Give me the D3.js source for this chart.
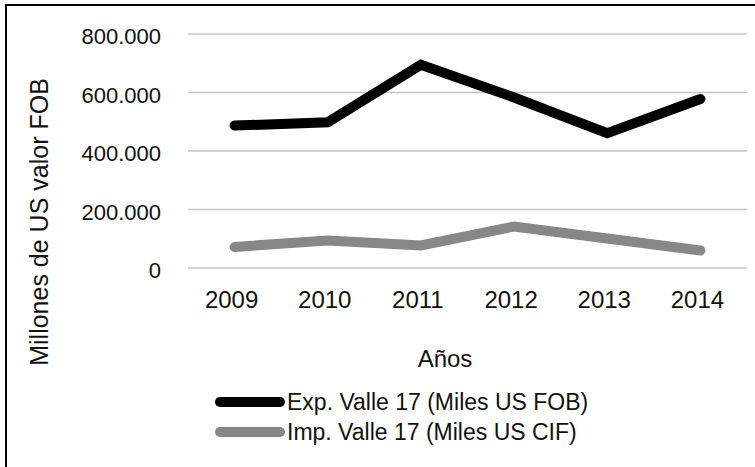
<!DOCTYPE html>
<html>
<head>
<meta charset="utf-8">
<script src="https://cdn.jsdelivr.net/npm/d3@7"></script>
<style>
  html, body { margin: 0; padding: 0; background: #fff; }
  svg { display: block; font-family: "Liberation Sans", Arial, Helvetica, sans-serif; }
</style>
</head>
<body>
<svg id="chart" width="755" height="467"></svg>
<script>
const years = ["2009", "2010", "2011", "2012", "2013", "2014"];
const exportValues = [487000, 498000, 695000, 583000, 461000, 578000];
const importValues = [72000, 94000, 77000, 142000, 101000, 60000];
const yTicks = [0, 200000, 400000, 600000, 800000];
const seriesNames = ["Exp. Valle 17 (Miles US FOB)", "Imp. Valle 17 (Miles US CIF)"];
const seriesColors = ["#000000", "#878787"];

const svg = d3.select("#chart");
const W = 755, H = 467;

// frame (left and top edges)
svg.append("line").attr("x1", 6).attr("x2", 6).attr("y1", 4).attr("y2", H)
  .attr("stroke", "#000").attr("stroke-width", 2);
svg.append("line").attr("x1", 5).attr("x2", W).attr("y1", 5).attr("y2", 5)
  .attr("stroke", "#000").attr("stroke-width", 2);

const x = d3.scalePoint().domain(years).range([188, 747]).padding(0.5);
const y = d3.scaleLinear().domain([0, 800000]).range([268, 34]);

const fmt = v => d3.format(",")(v).replace(/,/g, ".");

// gridlines
svg.append("g").selectAll("line").data(yTicks).join("line")
  .attr("x1", 188).attr("x2", 747)
  .attr("y1", d => y(d)).attr("y2", d => y(d))
  .attr("stroke", "#c4c4c4").attr("stroke-width", 1.5);

// y tick labels
svg.append("g").selectAll("text").data(yTicks).join("text")
  .attr("x", 161).attr("y", d => y(d) + 10)
  .attr("text-anchor", "end")
  .attr("font-size", 22).attr("fill", "#111")
  .text(d => fmt(d));

// x tick labels
svg.append("g").selectAll("text").data(years).join("text")
  .attr("x", d => x(d) - 3).attr("y", 308)
  .attr("text-anchor", "middle")
  .attr("font-size", 24).attr("fill", "#111")
  .text(d => d);

// axis titles
svg.append("text").attr("x", 445).attr("y", 367)
  .attr("text-anchor", "middle").attr("font-size", 24).attr("fill", "#111")
  .text("Años");
svg.append("text")
  .attr("transform", "translate(48,222) rotate(-90)")
  .attr("text-anchor", "middle").attr("font-size", 25).attr("fill", "#111")
  .text("Millones de US valor FOB");

// lines
const line = d3.line().x((d, i) => x(years[i])).y(d => y(d));
[importValues, exportValues].forEach((vals, k) => {
  const c = k === 0 ? seriesColors[1] : seriesColors[0];
  svg.append("path").datum(vals)
    .attr("d", line)
    .attr("fill", "none")
    .attr("stroke", c)
    .attr("stroke-width", 10)
    .attr("stroke-linecap", "round")
    .attr("stroke-linejoin", "miter");
});

// legend
const legend = svg.append("g");
seriesNames.forEach((name, i) => {
  const ly = 402 + i * 30;
  legend.append("line").attr("x1", 220).attr("x2", 280).attr("y1", ly).attr("y2", ly)
    .attr("stroke", seriesColors[i]).attr("stroke-width", 10).attr("stroke-linecap", "round");
  legend.append("text").attr("x", 287).attr("y", ly + 8)
    .attr("font-size", 23).attr("fill", "#111")
    .text(name);
});
</script>
</body>
</html>
